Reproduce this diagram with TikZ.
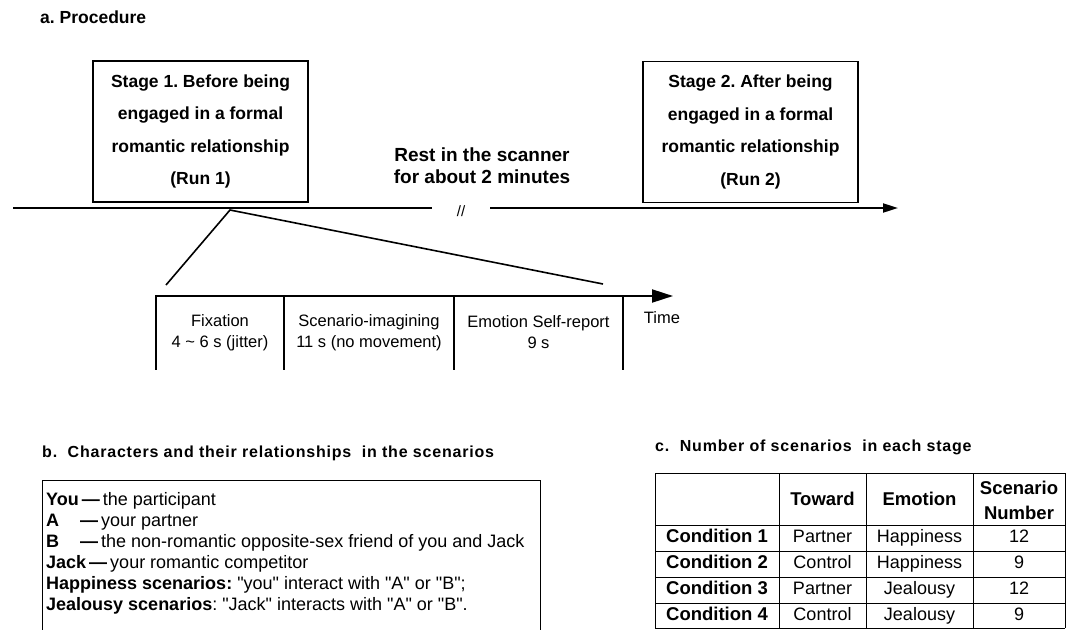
\documentclass[tikz,border=0pt]{standalone}
\usepackage{fontspec}
\setmainfont{Liberation Sans}
\newfontfamily\spacedfont[LetterSpace=5]{Liberation Sans}
\newfontfamily\quotefont[Ligatures=TeXOff]{Liberation Sans}
\usetikzlibrary{positioning,arrows.meta}

\newcommand{\fsz}[2]{\fontsize{#1}{#2}\selectfont}
\newcommand{\qt}[1]{{\quotefont"}#1{\quotefont"}}
\frenchspacing

\begin{document}
\begin{tikzpicture}[x=1pt,y=-1pt,
    every node/.style={inner sep=0pt},
    stagebox/.style={draw,line width=1.1pt,minimum width=215pt,minimum height=141pt,align=center,font=\bfseries\fsz{17.5}{32.5}},
    resttext/.style={align=center,font=\bfseries\fsz{19}{22}},
    steptext/.style={align=center,font=\fsz{16.5}{21}},
    paneltitle/.style={anchor=west,font=\spacedfont\bfseries\fsz{16}{18}},
    roleline/.style={anchor=base west,font=\fsz{18}{21}},
    headtext/.style={align=center,font=\bfseries\fsz{18.5}{25}},
    condtext/.style={font=\bfseries\fsz{18.5}{22},text height=13pt,text depth=4pt},
    celltext/.style={font=\fsz{18}{22},text height=13pt,text depth=4pt},
    axis/.style={line width=2pt},
    zoomline/.style={line width=1.6pt},
    tick/.style={line width=2pt},
    grid/.style={line width=1pt}
    ]
    \useasboundingbox (0,0) rectangle (1073,629);

    % a. procedure
    \node[anchor=west,font=\bfseries\fsz{17.5}{20}] (ta) at (40,17) {a. Procedure};
    \node[stagebox] (stage1) at (200.5,131.5) {Stage 1. Before being\\engaged in a formal\\romantic relationship\\(Run 1)};
    \node[stagebox] (stage2) at (750.5,132) {Stage 2. After being\\engaged in a formal\\romantic relationship\\(Run 2)};
    \node[resttext] (rest) at (482,166) {Rest in the scanner\\for about 2 minutes};

    % the main time line
    \coordinate (t0) at (13,208);
    \coordinate (gapl) at (432,208);
    \node[font=\fsz{15}{15}] (brk) at (461,211) {//};
    \coordinate (gapr) at (490,208);
    \coordinate (t1) at (898,208);
    \draw[axis] (t0) -- (gapl);
    \draw[axis,-{Triangle[length=15pt,width=9pt]}] (gapr) -- (t1);

    % zoom into one trial
    \coordinate (zoom) at (230,210);
    \coordinate (zl) at (166,285);
    \coordinate (zr) at (603,284);
    \draw[zoomline] (zl) -- (zoom) -- (zr);

    \coordinate (s0) at (156,296);
    \coordinate (s1) at (673,296);
    \draw[axis,-{Triangle[length=21pt,width=13pt]}] (s0) -- (s1);
    \foreach \x in {156,284,454,623}
      \draw[tick] (\x,295) -- (\x,370);
    \node[steptext] (fix) at (220,332.5) {Fixation\\4 \textasciitilde{} 6 s (jitter)};
    \node[steptext] (imag) at (369,332.5) {Scenario-imagining\\11 s (no movement)};
    \node[steptext] (report) at (538.5,332.5) {Emotion Self-report\\9 s};
    \node[steptext] (time) at (662,318) {Time};

    % b. characters
    \node[paneltitle] (tb) at (42,453) {b.\ \ Characters and their relationships\ \ in the scenarios};
    \draw[line width=1pt] (42,630) -- (42,480) -- (540,480) -- (540,630);
    \foreach \txt [count=\i from 0] in {
        {\textbf{You\,—}\,the participant},
        {\makebox[34pt][l]{\textbf{A}}\textbf{—}\,your partner},
        {\makebox[34pt][l]{\textbf{B}}\textbf{—}\,the non-romantic opposite-sex friend of you and Jack},
        {\textbf{Jack\,—}\,your romantic competitor},
        {\textbf{Happiness scenarios:} \qt{you} interact with \qt{A} or \qt{B};},
        {\textbf{Jealousy scenarios}: \qt{Jack} interacts with \qt{A} or \qt{B}.}}
      \node[roleline] (role\i) at (46,505+21*\i) {\txt};

    % c. number of scenarios
    \node[paneltitle] (tc) at (655,447) {c.\ \ Number of scenarios\ \ in each stage};
    \foreach \y in {473,525,551,577,603,628}
      \draw[grid] (655,\y) -- (1065,\y);
    \foreach \x in {655,779,866,973,1065}
      \draw[grid] (\x,473) -- (\x,628);
    \node[headtext] (htow) at (822.5,499) {Toward};
    \node[headtext] (hemo) at (919.5,499) {Emotion};
    \node[headtext] (hnum) at (1019,500) {Scenario\\Number};
    \foreach \tow/\emo/\num [count=\i] in {Partner/Happiness/12,Control/Happiness/9,Partner/Jealousy/12,Control/Jealousy/9} {
      \node[condtext] (cond\i) at (717,512+26*\i) {Condition \i};
      \node[celltext] (tow\i) at (822.5,512+26*\i) {\tow};
      \node[celltext] (emo\i) at (919.5,512+26*\i) {\emo};
      \node[celltext] (num\i) at (1019,512+26*\i) {\num};
    }
\end{tikzpicture}
\end{document}
